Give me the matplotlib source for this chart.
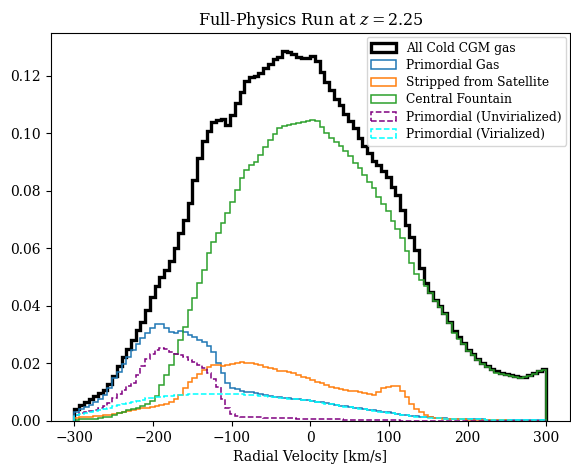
import numpy as np
import matplotlib
matplotlib.use('Agg')
import matplotlib.pyplot as plt

plt.rcParams['font.family'] = ['DejaVu Serif']
plt.rcParams['mathtext.fontset'] = 'dejavuserif'

# 100 bins of 6 km/s from -300 to 300
edges = np.linspace(-300, 300, 101)
centers = 0.5 * (edges[1:] + edges[:-1])

all_cold = [
    0.0040, 0.0055, 0.0066, 0.0076, 0.0087, 0.0097, 0.0108, 0.0128, 0.0155, 0.0190,
    0.0222, 0.0250, 0.0280, 0.0315, 0.0345, 0.0385, 0.0430, 0.0470, 0.0500, 0.0525,
    0.0555, 0.0600, 0.0655, 0.0700, 0.0758, 0.0838, 0.0915, 0.0975, 0.1010, 0.1038,
    0.1047, 0.1050, 0.1028, 0.1064, 0.1105, 0.1145, 0.1183, 0.1195, 0.1198, 0.1210,
    0.1228, 0.1243, 0.1258, 0.1265, 0.1285, 0.1282, 0.1275, 0.1265, 0.1262, 0.1262,
    0.1268, 0.1252, 0.1215, 0.1180, 0.1150, 0.1120, 0.1098, 0.1068, 0.1042, 0.1018,
    0.0985, 0.0955, 0.0932, 0.0905, 0.0890, 0.0868, 0.0848, 0.0815, 0.0785, 0.0735,
    0.0680, 0.0640, 0.0595, 0.0530, 0.0480, 0.0448, 0.0420, 0.0398, 0.0375, 0.0345,
    0.0312, 0.0290, 0.0270, 0.0248, 0.0232, 0.0215, 0.0200, 0.0190, 0.0180, 0.0172,
    0.0168, 0.0163, 0.0158, 0.0155, 0.0153, 0.0154, 0.0158, 0.0167, 0.0175, 0.0180,
]

primordial = [
    0.0030, 0.0040, 0.0049, 0.0056, 0.0066, 0.0075, 0.0090, 0.0115, 0.0148, 0.0170,
    0.0198, 0.0222, 0.0245, 0.0268, 0.0288, 0.0305, 0.0322, 0.0336, 0.0338, 0.0322,
    0.0310, 0.0306, 0.0313, 0.0310, 0.0299, 0.0290, 0.0282, 0.0275, 0.0262, 0.0238,
    0.0202, 0.0167, 0.0132, 0.0115, 0.0110, 0.0104, 0.0101, 0.0099, 0.0097, 0.0094,
    0.0091, 0.0088, 0.0084, 0.0082, 0.0080, 0.0078, 0.0077, 0.0076, 0.0074, 0.0073,
    0.0070, 0.0066, 0.0064, 0.0061, 0.0058, 0.0055, 0.0052, 0.0050, 0.0048, 0.0046,
    0.0043, 0.0041, 0.0039, 0.0036, 0.0033, 0.0031, 0.0029, 0.0027, 0.0024, 0.0022,
    0.0020, 0.0018, 0.0016, 0.0015, 0.0014, 0.0012, 0.0011, 0.0010, 0.0009, 0.0008,
    0.0007, 0.0007, 0.0006, 0.0006, 0.0005, 0.0005, 0.0005, 0.0004, 0.0004, 0.0004,
    0.0003, 0.0003, 0.0003, 0.0003, 0.0002, 0.0002, 0.0002, 0.0002, 0.0002, 0.0002,
]

stripped = [
    0.0010, 0.0012, 0.0013, 0.0014, 0.0016, 0.0018, 0.0020, 0.0022, 0.0025, 0.0028,
    0.0030, 0.0033, 0.0037, 0.0040, 0.0043, 0.0045, 0.0048, 0.0052, 0.0056, 0.0060,
    0.0064, 0.0076, 0.0090, 0.0113, 0.0134, 0.0150, 0.0162, 0.0177, 0.0188, 0.0195,
    0.0195, 0.0191, 0.0195, 0.0198, 0.0201, 0.0203, 0.0202, 0.0200, 0.0197, 0.0194,
    0.0189, 0.0184, 0.0180, 0.0175, 0.0174, 0.0171, 0.0167, 0.0161, 0.0154, 0.0148,
    0.0141, 0.0135, 0.0130, 0.0124, 0.0119, 0.0114, 0.0111, 0.0108, 0.0105, 0.0103,
    0.0101, 0.0098, 0.0095, 0.0090, 0.0100, 0.0113, 0.0117, 0.0122, 0.0120, 0.0104,
    0.0082, 0.0058, 0.0040, 0.0029, 0.0019, 0.0014, 0.0011, 0.0009, 0.0008, 0.0007,
    0.0006, 0.0005, 0.0005, 0.0004, 0.0004, 0.0003, 0.0003, 0.0003, 0.0002, 0.0002,
    0.0002, 0.0002, 0.0001, 0.0001, 0.0001, 0.0001, 0.0001, 0.0001, 0.0001, 0.0001,
]

fountain = [
    0.0004, 0.0005, 0.0006, 0.0007, 0.0008, 0.0010, 0.0012, 0.0015, 0.0020, 0.0026,
    0.0030, 0.0036, 0.0040, 0.0046, 0.0052, 0.0060, 0.0070, 0.0085, 0.0125, 0.0160,
    0.0195, 0.0232, 0.0280, 0.0327, 0.0386, 0.0428, 0.0480, 0.0525, 0.0584, 0.0623,
    0.0654, 0.0689, 0.0723, 0.0762, 0.0803, 0.0845, 0.0873, 0.0890, 0.0900, 0.0925,
    0.0953, 0.0977, 0.0998, 0.1019, 0.1026, 0.1030, 0.1033, 0.1037, 0.1040, 0.1043,
    0.1047, 0.1043, 0.1023, 0.1000, 0.0985, 0.0970, 0.0955, 0.0938, 0.0920, 0.0898,
    0.0878, 0.0855, 0.0831, 0.0810, 0.0780, 0.0755, 0.0730, 0.0695, 0.0668, 0.0635,
    0.0590, 0.0550, 0.0510, 0.0490, 0.0468, 0.0445, 0.0418, 0.0395, 0.0372, 0.0340,
    0.0307, 0.0285, 0.0266, 0.0244, 0.0228, 0.0211, 0.0196, 0.0186, 0.0176, 0.0168,
    0.0164, 0.0159, 0.0155, 0.0152, 0.0150, 0.0151, 0.0155, 0.0164, 0.0172, 0.0177,
]

unvirialized = [
    0.0022, 0.0027, 0.0031, 0.0035, 0.0039, 0.0044, 0.0050, 0.0063, 0.0080, 0.0092,
    0.0106, 0.0120, 0.0132, 0.0160, 0.0190, 0.0215, 0.0233, 0.0245, 0.0254, 0.0250,
    0.0240, 0.0234, 0.0230, 0.0222, 0.0212, 0.0203, 0.0195, 0.0184, 0.0168, 0.0145,
    0.0118, 0.0075, 0.0045, 0.0025, 0.0018, 0.0015, 0.0014, 0.0013, 0.0012, 0.0012,
    0.0011, 0.0011, 0.0010, 0.0010, 0.0010, 0.0009, 0.0009, 0.0008, 0.0008, 0.0008,
    0.0007, 0.0007, 0.0006, 0.0006, 0.0005, 0.0005, 0.0005, 0.0004, 0.0004, 0.0004,
    0.0003, 0.0003, 0.0003, 0.0003, 0.0002, 0.0002, 0.0002, 0.0002, 0.0002, 0.0001,
    0.0001, 0.0001, 0.0001, 0.0001, 0.0001, 0.0001, 0.0001, 0.0001, 0.0001, 0.0001,
    0.0001, 0.0001, 0.0001, 0.0001, 0.0001, 0.0000, 0.0000, 0.0000, 0.0000, 0.0000,
    0.0000, 0.0000, 0.0000, 0.0000, 0.0000, 0.0000, 0.0000, 0.0000, 0.0000, 0.0000,
]

virialized = [
    0.0020, 0.0024, 0.0027, 0.0030, 0.0033, 0.0037, 0.0042, 0.0046, 0.0050, 0.0054,
    0.0058, 0.0062, 0.0066, 0.0070, 0.0074, 0.0078, 0.0080, 0.0082, 0.0084, 0.0086,
    0.0088, 0.0089, 0.0090, 0.0091, 0.0092, 0.0092, 0.0093, 0.0093, 0.0094, 0.0094,
    0.0094, 0.0094, 0.0094, 0.0093, 0.0093, 0.0092, 0.0091, 0.0090, 0.0089, 0.0088,
    0.0086, 0.0084, 0.0082, 0.0080, 0.0079, 0.0077, 0.0076, 0.0075, 0.0073, 0.0072,
    0.0069, 0.0065, 0.0063, 0.0060, 0.0057, 0.0054, 0.0051, 0.0049, 0.0047, 0.0045,
    0.0042, 0.0040, 0.0038, 0.0035, 0.0032, 0.0030, 0.0028, 0.0026, 0.0023, 0.0021,
    0.0019, 0.0017, 0.0015, 0.0014, 0.0013, 0.0011, 0.0010, 0.0009, 0.0008, 0.0007,
    0.0006, 0.0006, 0.0005, 0.0005, 0.0005, 0.0005, 0.0005, 0.0004, 0.0004, 0.0004,
    0.0003, 0.0003, 0.0003, 0.0003, 0.0002, 0.0002, 0.0002, 0.0002, 0.0002, 0.0002,
]

fig = plt.figure(figsize=(5.71, 4.65), dpi=100)
ax = fig.add_axes([0.089, 0.095, 0.909, 0.834])

ax.hist(centers, bins=edges, weights=all_cold, histtype='step', color='black', lw=2.4, label='All Cold CGM gas')
ax.hist(centers, bins=edges, weights=primordial, histtype='step', color='C0', lw=1.1, label='Primordial Gas')
ax.hist(centers, bins=edges, weights=stripped, histtype='step', color='C1', lw=1.1, label='Stripped from Satellite')
ax.hist(centers, bins=edges, weights=fountain, histtype='step', color='C2', lw=1.1, label='Central Fountain')
ax.hist(centers, bins=edges, weights=unvirialized, histtype='step', color='purple', lw=1.1, ls='--', label='Primordial (Unvirialized)')
ax.hist(centers, bins=edges, weights=virialized, histtype='step', color='cyan', lw=1.1, ls='--', label='Primordial (Virialized)')

ax.set_title('Full-Physics Run at $z = 2.25$', fontsize=11.5)
ax.set_xlabel('Radial Velocity [km/s]')
ax.legend(loc='upper right', fontsize=8.8, borderaxespad=0.3, labelspacing=0.35)

fig.savefig('out.png', dpi=100)
